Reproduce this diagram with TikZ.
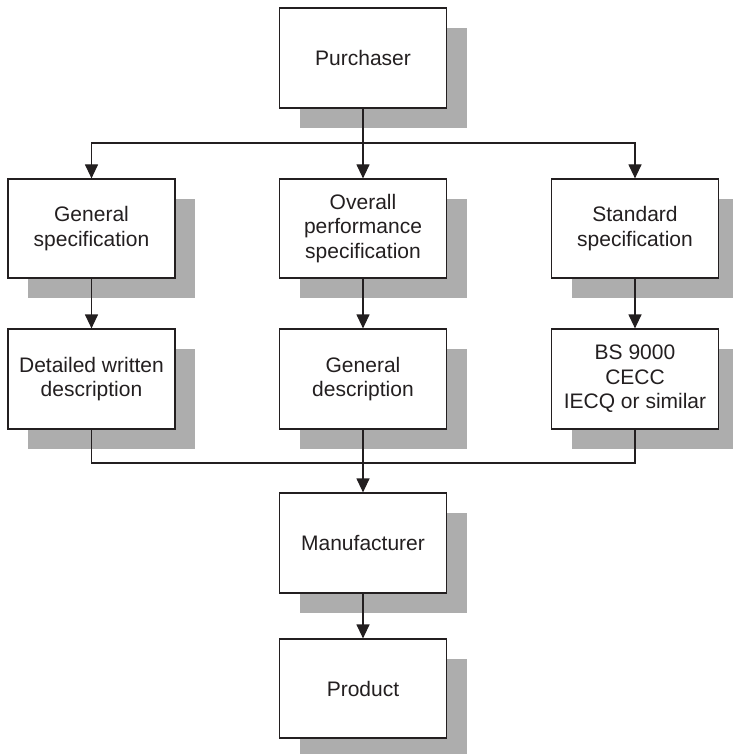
\documentclass[tikz,border=0pt]{standalone}
\usepackage{fontspec}
\setmainfont{Liberation Sans}
\usetikzlibrary{arrows.meta,shadows}
\definecolor{ink}{HTML}{231F20}
\definecolor{shade}{HTML}{ADADAD}
\begin{document}
\begin{tikzpicture}[x=1pt,y=-1pt,
  box/.style={draw=ink, line width=1.2pt, fill=white, text=ink,
    minimum width=167pt, minimum height=100pt, inner sep=0pt,
    align=center, font=\fontsize{21}{24.5}\selectfont,
    general shadow={shadow xshift=20pt, shadow yshift=-20pt, fill=shade, draw=none}},
  link/.style={draw=ink, line width=1.2pt},
  arr/.style={link, -{Triangle[length=14pt,width=13pt]}}]
\useasboundingbox (0,0) rectangle (732,754);

% Top: purchaser
\node[box] (pur) at (363,58) {Purchaser};

% Second row: kinds of specification
\node[box, minimum height=99pt] (gs)  at (91.5,228.5) {General\\specification};
\node[box, minimum height=99pt] (ops) at (363,228.5) {Overall\\performance\\specification};
\node[box, minimum height=99pt] (ss)  at (635,228.5) {Standard\\specification};

% Third row: descriptions
\node[box] (dwd) at (91.5,379) {Detailed written\\description};
\node[box] (gd)  at (363,379) {General\\description};
\node[box] (bs)  at (635,379) {BS 9000\\CECC\\IECQ or similar};

% Bottom: manufacturer and product
\node[box] (man)  at (363,543) {Manufacturer};
\node[box, minimum height=99pt] (prod) at (363,688.5) {Product};

% Branching from the purchaser
\coordinate (split) at (363,143);
\coordinate (join) at (363,463);
\draw[arr] (pur.south) -- (ops.north);
\draw[arr] (split) -| (gs.north);
\draw[arr] (split) -| (ss.north);

% Specification to description
\draw[arr] (gs.south) -- (dwd.north);
\draw[arr] (ops.south) -- (gd.north);
\draw[arr] (ss.south) -- (bs.north);

% Merging into the manufacturer
\draw[link] (dwd.south) |- (join);
\draw[link] (bs.south) |- (join);
\draw[arr] (gd.south) -- (man.north);
\draw[arr] (man.south) -- (prod.north);
\end{tikzpicture}
\end{document}
